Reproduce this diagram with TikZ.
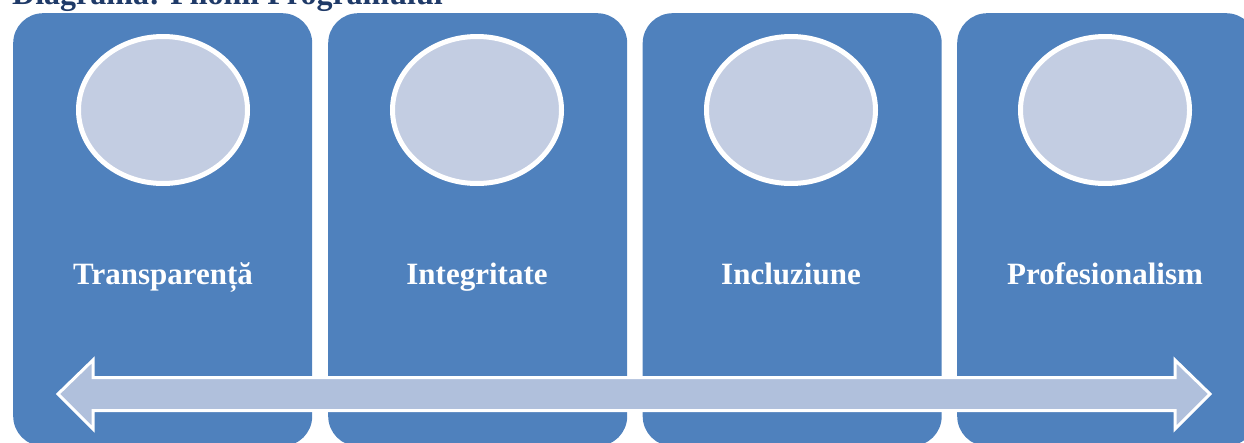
\documentclass[tikz,border=0pt]{standalone}
\usepackage{fontspec}
\setmainfont{Liberation Serif}
\usetikzlibrary{shapes.geometric}
\definecolor{panelblue}{HTML}{4F81BD}
\definecolor{circfill}{HTML}{C3CDE2}
\definecolor{arrowfill}{HTML}{B0C0DC}
\definecolor{titleblue}{HTML}{1F3A68}
\begin{document}
\begin{tikzpicture}[x=1pt,y=-1pt,
  panel/.style={rectangle, fill=panelblue, rounded corners=30pt, draw=none,
    minimum width=299pt, minimum height=433pt, anchor=north west, inner sep=0pt},
  disc/.style={ellipse, draw=white, line width=5pt, fill=circfill,
    minimum width=169pt, minimum height=147pt, inner sep=0pt},
  pillar/.style={anchor=base, text=white, inner sep=0pt,
    font=\bfseries\fontsize{31}{36}\selectfont},
  bigarrow/.style={draw=white, line width=3pt, fill=arrowfill, line join=miter}]
\useasboundingbox (0,0) rectangle (1244,442);
\clip (0,0) rectangle (1244,442);
\node[anchor=base west, text=titleblue, inner sep=0pt,
  font=\bfseries\fontsize{32}{36}\selectfont] (title) at (12,4) {Diagrama: Pilonii Programului};
\node[panel] (p1) at (13,13) {};
\node[panel] (p2) at (328,13) {};
\node[panel] (p3) at (642.5,13) {};
\node[panel] (p4) at (957,13) {};
\node[disc] (c1) at (163,110) {};
\node[disc] (c2) at (477,110) {};
\node[disc] (c3) at (791,110) {};
\node[disc] (c4) at (1105,110) {};
\node[pillar] (t1) at (163,284) {Transparență};
\node[pillar] (t2) at (477,284) {Integritate};
\node[pillar] (t3) at (791,284) {Incluziune};
\node[pillar] (t4) at (1105,284) {Profesionalism};
\draw[bigarrow] (58,394) -- (93,360) -- (93,377.5) -- (1175,377.5) -- (1175,360)
  -- (1210,394) -- (1175,429) -- (1175,410.5) -- (93,410.5) -- (93,429) -- cycle;
\end{tikzpicture}
\end{document}
